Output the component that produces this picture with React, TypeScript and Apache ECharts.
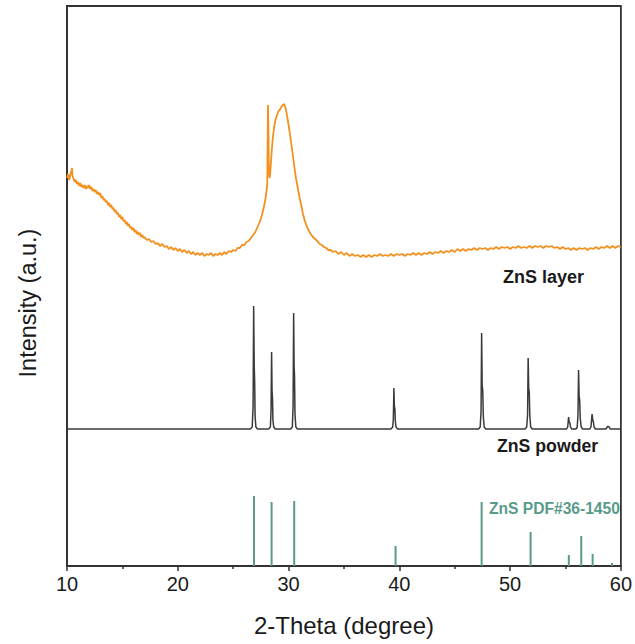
import React, { useEffect, useRef } from "react";
import * as echarts from "echarts";

// ZnS layer (orange) : [2-theta, intensity a.u.]
const layerData: [number, number][] = [
  [10.0,388],[10.1,392],[10.2,386],[10.3,391],[10.4,395],[10.45,398],[10.5,390],[10.6,387],[10.7,384],[10.8,386],[10.9,382],[11.0,384],[11.1,380],[11.2,383],[11.3,379],[11.4,381],[11.5,378],[11.6,381],[11.7,377],[11.8,380],[11.9,378],[12.0,381],[12.1,377],[12.2,379],[12.3,375],[12.4,377],[12.5,374],[12.6,376],[12.7,372],[12.8,374],[12.9,371],[13.0,373],[13.1,368],[13.2,370],[13.3,366],[13.4,367],[13.5,364],[13.6,365],[13.7,361],[13.8,363],[13.9,359],[14.0,361],[14.1,357],[14.2,358],[14.3,354],[14.4,356],[14.5,352],[14.6,353],[14.7,349],[14.8,351],[14.9,347],[15.0,349],[15.1,345],[15.2,346],[15.3,342],[15.4,344],[15.5,340],[15.6,342],[15.7,338],[15.8,339],[15.9,336],[16.0,338],[16.1,334],[16.2,336],[16.3,332],[16.4,334],[16.5,331],[16.6,333],[16.7,329],[16.8,331],[16.9,328],[17.0,329],[17.2,326],[17.4,327],[17.6,324],[17.8,325],[18.0,322],[18.2,323],[18.4,320],[18.6,322],[18.8,319],[19.0,320],[19.2,317],[19.4,319],[19.6,316],[19.8,318],[20.0,315],[20.2,317],[20.4,314],[20.6,316],[20.8,313],[21.0,315],[21.2,312],[21.4,314],[21.6,311],[21.8,313],[22.0,311],[22.2,313],[22.4,310],[22.6,312],[22.8,311],[23.0,313],[23.2,310],[23.4,312],[23.6,311],[23.8,313],[24.0,311],[24.2,314],[24.4,312],[24.6,315],[24.8,314],[25.0,316],[25.2,315],[25.4,318],[25.6,318],[25.8,321],[26.0,321],[26.2,324],[26.4,325],[26.6,328],[26.8,331],[27.0,334],[27.2,339],[27.4,344],[27.6,351],[27.75,358],[27.9,366],[28.0,374],[28.08,382],[28.14,461],[28.18,440],[28.22,395],[28.28,388],[28.34,392],[28.4,402],[28.5,418],[28.6,430],[28.7,439],[28.8,445],[28.9,449],[29.0,452],[29.1,455],[29.2,456],[29.3,458],[29.4,460],[29.5,461],[29.6,462],[29.7,459],[29.8,454],[29.9,448],[30.0,441],[30.1,434],[30.2,426],[30.3,418],[30.4,410],[30.5,401],[30.6,393],[30.7,386],[30.8,380],[30.9,374],[31.0,368],[31.1,363],[31.2,358],[31.3,352],[31.4,348],[31.5,344],[31.6,341],[31.7,338],[31.8,336],[31.9,334],[32.0,332],[32.2,329],[32.4,327],[32.6,325],[32.8,322],[33.0,321],[33.2,319],[33.4,318],[33.6,316],[33.8,316],[34.0,314],[34.25,315],[34.5,312],[34.75,314],[35.0,311],[35.25,313],[35.5,310],[35.75,312],[36.0,310],[36.25,311],[36.5,309],[36.75,311],[37.0,309],[37.25,311],[37.5,309],[37.75,311],[38.0,310],[38.25,312],[38.5,310],[38.75,311],[39.0,310],[39.25,312],[39.5,310],[39.75,312],[40.0,311],[40.25,312],[40.5,310],[40.75,312],[41.0,311],[41.25,313],[41.5,311],[41.75,313],[42.0,311],[42.25,313],[42.5,312],[42.75,314],[43.0,312],[43.25,314],[43.5,313],[43.75,315],[44.0,313],[44.25,315],[44.5,314],[44.75,316],[45.0,314],[45.25,317],[45.5,315],[45.75,317],[46.0,315],[46.25,317],[46.5,316],[46.75,318],[47.0,316],[47.25,318],[47.5,317],[47.75,318],[48.0,316],[48.25,318],[48.5,317],[48.75,319],[49.0,317],[49.25,319],[49.5,318],[49.75,319],[50.0,317],[50.25,319],[50.5,318],[50.75,320],[51.0,318],[51.25,319],[51.5,318],[51.75,320],[52.0,318],[52.25,320],[52.5,319],[52.75,320],[53.0,318],[53.25,320],[53.5,319],[53.75,320],[54.0,318],[54.25,319],[54.5,317],[54.75,319],[55.0,317],[55.25,318],[55.5,316],[55.75,318],[56.0,316],[56.25,318],[56.5,317],[56.75,318],[57.0,316],[57.25,318],[57.5,317],[57.75,319],[58.0,317],[58.25,319],[58.5,318],[58.75,320],[59.0,318],[59.25,320],[59.5,318],[59.75,320],[60.0,319]
];

// ZnS powder (black)
const powderData: [number, number][] = [
  [10,137],[26.55,137],[26.72,139],[26.8,160],[26.85,260],[26.9,200],[26.94,185],[26.98,150],[27.05,139],[27.2,137],
  [28.2,137],[28.36,139],[28.42,155],[28.47,214],[28.51,175],[28.55,168],[28.59,146],[28.66,139],[28.8,137],
  [30.2,137],[30.34,139],[30.41,160],[30.46,253],[30.5,200],[30.54,190],[30.58,152],[30.66,139],[30.8,137],
  [39.25,137],[39.4,139],[39.46,147],[39.51,178],[39.55,160],[39.6,157],[39.64,145],[39.7,139],[39.85,137],
  [47.15,137],[47.3,139],[47.38,155],[47.43,233],[47.48,180],[47.53,176],[47.58,150],[47.66,139],[47.8,137],
  [51.35,137],[51.5,139],[51.58,152],[51.63,208],[51.68,178],[51.73,174],[51.78,150],[51.86,139],[52.0,137],
  [55.1,137],[55.2,139],[55.28,149],[55.34,144],[55.4,143],[55.46,139],[55.55,137],
  [55.95,137],[56.06,139],[56.13,152],[56.18,196],[56.23,170],[56.28,166],[56.33,148],[56.42,139],[56.55,137],
  [57.2,137],[57.3,139],[57.4,152],[57.46,146],[57.52,144],[57.58,139],[57.7,137],
  [58.65,137],[58.8,139.5],[58.9,139.5],[59.05,137],[60,137]
];

// PDF#36-1450 reference lines
const pdfTheta: number[] = [26.88, 28.47, 30.51, 39.66, 47.43, 51.85, 55.3, 56.42, 57.45, 59.2];
const pdfIntensity: number[] = [70, 64, 65, 20, 64, 34, 11, 30, 12, 3];

const xTicks: number[] = [10, 20, 30, 40, 50, 60];

const FONT = "'Liberation Sans', Arial, sans-serif";
const ORANGE = "#F4901E";
const DARK = "#3a3a3a";
const TEAL = "#5A9A8A";

export default function App() {
  const ref = useRef<HTMLDivElement>(null);
  useEffect(() => {
    document.body.style.margin = "0";
    if (!ref.current) return;
    const chart = echarts.init(ref.current, null, { renderer: "svg" });
    chart.setOption({
      animation: false,
      backgroundColor: "#ffffff",
      textStyle: { fontFamily: FONT },
      grid: {
        left: 67, right: 14, top: 6, bottom: 78,
        show: true, borderColor: "#333", borderWidth: 1.8, backgroundColor: "transparent"
      },
      xAxis: {
        type: "value",
        min: xTicks[0],
        max: xTicks[xTicks.length - 1],
        interval: 10,
        name: "2-Theta (degree)",
        nameLocation: "middle",
        nameGap: 47,
        nameTextStyle: { fontSize: 24, color: "#1a1a1a", fontFamily: FONT },
        axisLine: { show: true, onZero: false, lineStyle: { color: "#333", width: 1.8 } },
        axisTick: { show: true, length: 5, lineStyle: { color: "#333", width: 1.5 } },
        minorTick: { show: true, splitNumber: 2, length: 3, lineStyle: { color: "#333", width: 1.5 } },
        axisLabel: { fontSize: 20, color: "#1a1a1a", margin: 8, fontFamily: FONT },
        splitLine: { show: false }
      },
      yAxis: {
        type: "value",
        min: 0,
        max: 560,
        axisLine: { show: true, lineStyle: { color: "#333", width: 1.8 } },
        axisTick: { show: false },
        axisLabel: { show: false },
        splitLine: { show: false }
      },
      graphic: [
        {
          type: "text", x: 28, y: 303, rotation: Math.PI / 2,
          style: { text: "Intensity (a.u.)", fontSize: 23.5, fill: "#1a1a1a", fontFamily: FONT, align: "center", verticalAlign: "middle" }
        },
        {
          type: "text", x: 503, y: 277,
          style: { text: "ZnS layer", fontSize: 18, fontWeight: "bold", fill: "#1a1a1a", fontFamily: FONT, align: "left", verticalAlign: "middle" }
        },
        {
          type: "text", x: 497, y: 446,
          style: { text: "ZnS powder", fontSize: 17.7, fontWeight: "bold", fill: "#1a1a1a", fontFamily: FONT, align: "left", verticalAlign: "middle" }
        },
        {
          type: "text", x: 489, y: 508,
          style: { text: "ZnS PDF#36-1450", fontSize: 15.6, fontWeight: "bold", fill: TEAL, fontFamily: FONT, align: "left", verticalAlign: "middle" }
        }
      ],
      series: [
        {
          name: "ZnS layer", type: "line", data: layerData, showSymbol: false, symbol: "none",
          lineStyle: { color: ORANGE, width: 1.8 }, z: 3
        },
        {
          name: "ZnS powder", type: "line", data: powderData, showSymbol: false, symbol: "none",
          lineStyle: { color: DARK, width: 1.5 }, z: 3
        },
        {
          name: "ZnS PDF#36-1450", type: "bar", barWidth: 2,
          data: pdfTheta.map((t, i) => [t, pdfIntensity[i]]),
          itemStyle: { color: TEAL }, z: 2
        }
      ]
    });
    return () => chart.dispose();
  }, []);
  return <div ref={ref} style={{ width: 635, height: 644 }} />;
}
